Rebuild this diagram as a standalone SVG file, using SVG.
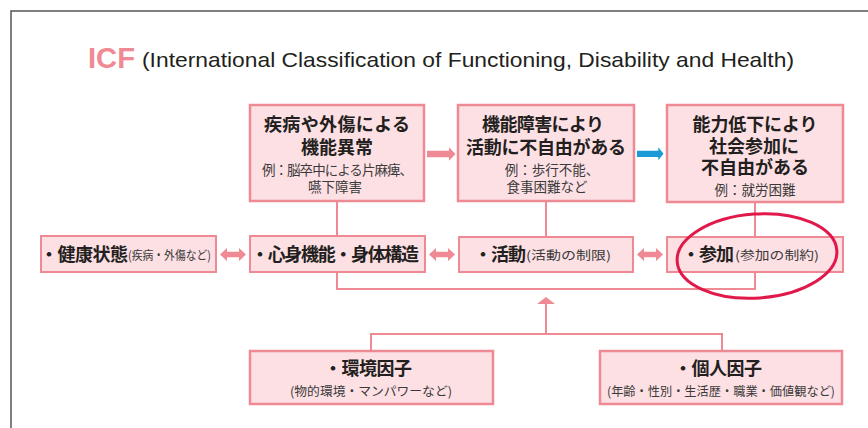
<svg xmlns="http://www.w3.org/2000/svg" width="868" height="428" viewBox="0 0 868 428">
<style>
.bx{fill:#fde0e4;stroke:#ef8a94;stroke-width:2.5}
.bm{fill:#fde0e4;stroke:#ef8a94;stroke-width:2}
.t{font-family:"Noto Sans CJK JP","Noto Sans CJK SC",sans-serif;fill:#231f20}
.h{font-size:18px;font-weight:700}
.s{font-size:13.5px;font-weight:400;fill:#3a3a3a}
.m{font-size:12.5px;font-weight:400;fill:#3a3a3a}
.c{text-anchor:middle}
.ln{fill:none;stroke:#ef8a94;stroke-width:2}
.ar{fill:#ef8a94}
</style>
<rect width="868" height="428" fill="#ffffff"/>
<path d="M11 428 V11 H868" fill="none" stroke="#555" stroke-width="1.5"/>
<g id="title">
<text x="88" y="68" font-family="Liberation Sans, Arial, sans-serif" font-size="29" font-weight="700" fill="#ef8a94" textLength="47" lengthAdjust="spacingAndGlyphs">ICF</text>
<text x="142" y="67" font-family="Liberation Sans, Arial, sans-serif" font-size="21" fill="#231f20" textLength="652" lengthAdjust="spacingAndGlyphs">(International Classification of Functioning, Disability and Health)</text>
</g>
<g id="connectors">
<path class="ln" d="M337 202 V236 M546 202 V237 M755 203 V237 M337 272 V289 H755 V272"/>
<path class="ln" d="M371 351 V334 H722 V351"/>
<path class="ln" stroke-width="3.5" d="M546 334 V302"/>
<polygon class="ar" points="546,297 555,304 537,304"/>
<polygon class="ar" points="427,150.7 449,150.7 449,147.3 455.5,154 449,160.7 449,157.3 427,157.3"/>
<polygon fill="#1a9ad6" points="637,150.7 658.3,150.7 658.3,147.3 663.5,153.7 658.3,160.3 658.3,157 637,157"/>
<polygon class="ar" points="220,254.5 227,248 227,251.8 239,251.8 239,248 246,254.5 239,261 239,257.2 227,257.2 227,261"/>
<polygon class="ar" points="429,254.5 436,248 436,251.8 448,251.8 448,248 455,254.5 448,261 448,257.2 436,257.2 436,261"/>
<polygon class="ar" points="637,254.5 644,248 644,251.8 656,251.8 656,248 663,254.5 656,261 656,257.2 644,257.2 644,261"/>
</g>
<g id="node-kinou-ijou">
<rect class="bx" x="250" y="105" width="174" height="96"/>
<text class="t h c"><tspan x="337" y="130.5" textLength="146">疾病や外傷による</tspan><tspan x="337" y="153.5">機能異常</tspan><tspan class="s" x="337.5" y="174.8" textLength="151">例：脳卒中による片麻痺、</tspan><tspan class="s" x="335" y="191.8">嚥下障害</tspan></text>
</g>
<g id="node-katsudou-fujiyuu">
<rect class="bx" x="458" y="105" width="176" height="96"/>
<text class="t h c"><tspan x="543" y="130.5" textLength="122">機能障害により</tspan><tspan x="546" y="153.5" textLength="160">活動に不自由がある</tspan><tspan class="s" x="552" y="174.8">例：歩行不能、</tspan><tspan class="s" x="547" y="191.8">食事困難など</tspan></text>
</g>
<g id="node-sankasei">
<rect class="bx" x="667" y="105" width="176" height="97"/>
<text class="t h c"><tspan x="755" y="130.5" textLength="125">能力低下により</tspan><tspan x="754" y="152.5">社会参加に</tspan><tspan x="755" y="173.5">不自由がある</tspan><tspan class="s" x="755" y="194.8">例：就労困難</tspan></text>
</g>
<g id="node-kenkou">
<rect class="bm" x="41" y="236" width="175" height="36"/>
<text class="t h" x="40" y="261" textLength="88">・健康状態</text>
<text class="t m" x="128" y="259.5" textLength="83" lengthAdjust="spacingAndGlyphs">(疾病・外傷など)</text>
</g>
<g id="node-shinshin">
<rect class="bm" x="250" y="236" width="175" height="36"/>
<text class="t h c" x="335" y="261" textLength="168">・心身機能・身体構造</text>
</g>
<g id="node-katsudou">
<rect class="bm" x="459" y="237" width="174" height="35"/>
<text class="t h" x="474" y="261" textLength="52">・活動</text>
<text class="t m" x="526" y="259.5" textLength="85" lengthAdjust="spacingAndGlyphs">(活動の制限)</text>
</g>
<g id="node-sanka">
<rect class="bm" x="667" y="237" width="176" height="35"/>
<text class="t h" x="682" y="261" textLength="52">・参加</text>
<text class="t m" x="735" y="259.5" textLength="84" lengthAdjust="spacingAndGlyphs">(参加の制約)</text>
</g>
<g id="highlight">
<ellipse cx="757" cy="256" rx="80" ry="42" transform="rotate(-4 757 256)" fill="none" stroke="#e0194a" stroke-width="3"/>
</g>
<g id="node-kankyou">
<rect class="bx" x="250" y="351" width="243" height="53"/>
<text class="t h c"><tspan x="368" y="375" textLength="88">・環境因子</tspan><tspan class="m" x="371" y="396" textLength="162" lengthAdjust="spacingAndGlyphs">(物的環境・マンパワーなど)</tspan></text>
</g>
<g id="node-kojin">
<rect class="bx" x="600" y="351" width="242" height="53"/>
<text class="t h c"><tspan x="718" y="375" textLength="88">・個人因子</tspan><tspan class="m" x="721" y="396" textLength="228" lengthAdjust="spacingAndGlyphs">(年齢・性別・生活歴・職業・価値観など)</tspan></text>
</g>
</svg>
